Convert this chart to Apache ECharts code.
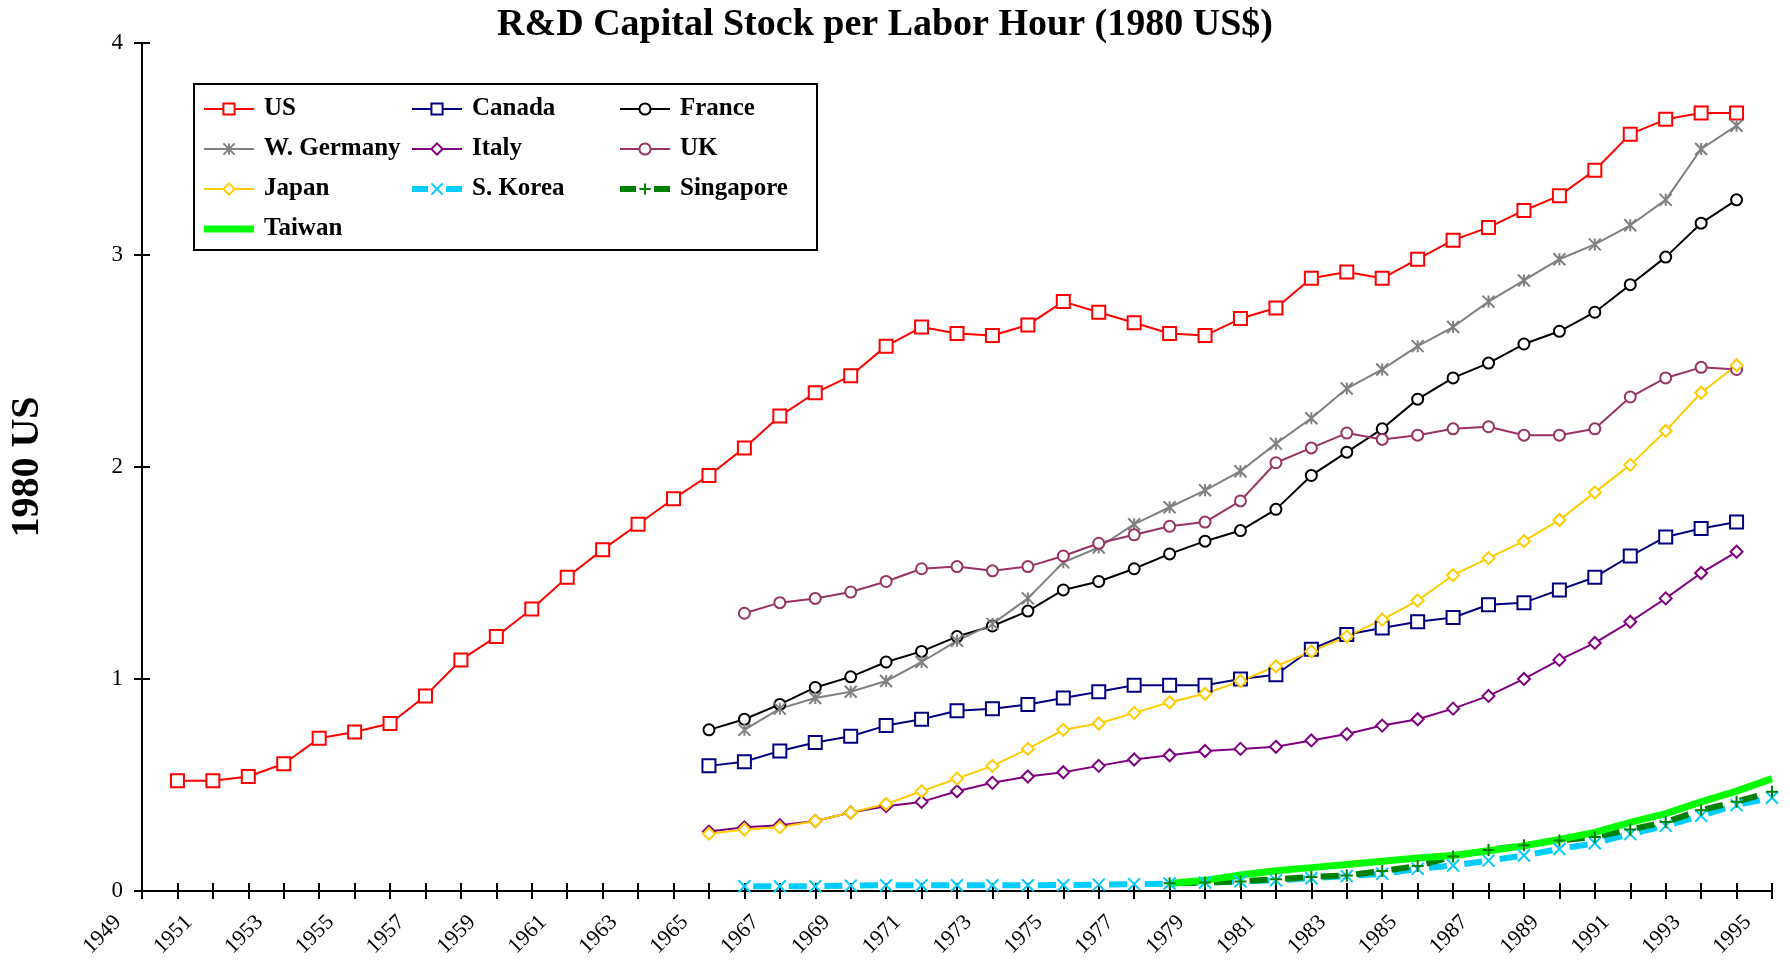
<!DOCTYPE html>
<html>
<head>
<meta charset="utf-8">
<title>R&amp;D Capital Stock per Labor Hour</title>
<script src="https://cdn.jsdelivr.net/npm/echarts@6/dist/echarts.min.js"></script>
<style>
  html, body { margin: 0; padding: 0; background: #fff; }
  #chart { width: 1790px; height: 960px; }
</style>
</head>
<body>
<div id="chart"></div>
<script>
// x axis categories (one per year)
var years = ['1949', '1950', '1951', '1952', '1953', '1954', '1955', '1956', '1957', '1958',
    '1959', '1960', '1961', '1962', '1963', '1964', '1965', '1966', '1967', '1968',
    '1969', '1970', '1971', '1972', '1973', '1974', '1975', '1976', '1977', '1978',
    '1979', '1980', '1981', '1982', '1983', '1984', '1985', '1986', '1987', '1988',
    '1989', '1990', '1991', '1992', '1993', '1994', '1995'];

// values, each list starts at its own first year
var usStart = 1950;
var usData = [0.52, 0.52, 0.54, 0.60, 0.72, 0.75, 0.79, 0.92, 1.09, 1.20,
    1.33, 1.48, 1.61, 1.73, 1.85, 1.96, 2.09, 2.24, 2.35, 2.43,
    2.57, 2.66, 2.63, 2.62, 2.67, 2.78, 2.73, 2.68, 2.63, 2.62,
    2.70, 2.75, 2.89, 2.92, 2.89, 2.98, 3.07, 3.13, 3.21, 3.28,
    3.40, 3.57, 3.64, 3.67, 3.67];

var canadaStart = 1965;
var canadaData = [0.59, 0.61, 0.66, 0.70, 0.73, 0.78, 0.81, 0.85, 0.86, 0.88,
    0.91, 0.94, 0.97, 0.97, 0.97, 1.00, 1.02, 1.14, 1.21, 1.24,
    1.27, 1.29, 1.35, 1.36, 1.42, 1.48, 1.58, 1.67, 1.71, 1.74];

var franceStart = 1965;
var franceData = [0.76, 0.81, 0.88, 0.96, 1.01, 1.08, 1.13, 1.20, 1.25, 1.32,
    1.42, 1.46, 1.52, 1.59, 1.65, 1.70, 1.80, 1.96, 2.07, 2.18,
    2.32, 2.42, 2.49, 2.58, 2.64, 2.73, 2.86, 2.99, 3.15, 3.26];

var germanyStart = 1966;
var germanyData = [0.76, 0.86, 0.91, 0.94, 0.99, 1.08, 1.18, 1.26, 1.38, 1.55,
    1.62, 1.73, 1.81, 1.89, 1.98, 2.11, 2.23, 2.37, 2.46, 2.57,
    2.66, 2.78, 2.88, 2.98, 3.05, 3.14, 3.26, 3.50, 3.61];

var italyStart = 1965;
var italyData = [0.28, 0.30, 0.31, 0.33, 0.37, 0.40, 0.42, 0.47, 0.51, 0.54,
    0.56, 0.59, 0.62, 0.64, 0.66, 0.67, 0.68, 0.71, 0.74, 0.78,
    0.81, 0.86, 0.92, 1.00, 1.09, 1.17, 1.27, 1.38, 1.50, 1.60];

var ukStart = 1966;
var ukData = [1.31, 1.36, 1.38, 1.41, 1.46, 1.52, 1.53, 1.51, 1.53, 1.58,
    1.64, 1.68, 1.72, 1.74, 1.84, 2.02, 2.09, 2.16, 2.13, 2.15,
    2.18, 2.19, 2.15, 2.15, 2.18, 2.33, 2.42, 2.47, 2.46];

var japanStart = 1965;
var japanData = [0.27, 0.29, 0.30, 0.33, 0.37, 0.41, 0.47, 0.53, 0.59, 0.67,
    0.76, 0.79, 0.84, 0.89, 0.93, 0.99, 1.06, 1.13, 1.20, 1.28,
    1.37, 1.49, 1.57, 1.65, 1.75, 1.88, 2.01, 2.17, 2.35, 2.48];

var koreaStart = 1966;
var koreaData = [0.022, 0.022, 0.022, 0.025, 0.027, 0.027, 0.027, 0.027, 0.027, 0.028,
    0.030, 0.032, 0.035, 0.040, 0.045, 0.050, 0.060, 0.070, 0.081, 0.104,
    0.120, 0.143, 0.167, 0.198, 0.225, 0.268, 0.307, 0.355, 0.405, 0.440];

var singaporeStart = 1978;
var singaporeData = [0.036, 0.040, 0.045, 0.055, 0.066, 0.073, 0.094, 0.118, 0.162, 0.193,
    0.215, 0.238, 0.254, 0.290, 0.325, 0.381, 0.421, 0.468];

var taiwanStart = 1978;
var taiwanData = [0.035, 0.050, 0.075, 0.095, 0.110, 0.125, 0.140, 0.155, 0.167, 0.190,
    0.213, 0.243, 0.276, 0.323, 0.365, 0.420, 0.471, 0.530];

var yTicks = [0, 1, 2, 3, 4];

// put a list on the full year axis (empty years stay null)
function onYears(start, vals) {
    var out = [];
    for (var i = 0; i < years.length; i++) {
        var k = Number(years[i]) - start;
        out.push(k >= 0 && k < vals.length ? vals[k] : null);
    }
    return out;
}

var serif = "'Liberation Serif', 'Times New Roman', serif";
var asterisk = 'path://M5,0L5,10M0,0L10,10M0,10L10,0';
var cross = 'path://M0,0L10,10M0,10L10,0';
var plus = 'path://M5,0L5,10M0,5L10,5';

function markLine(name, color, data, symbol, size) {
    return {
        name: name,
        type: 'line',
        data: data,
        symbol: symbol,
        symbolSize: size,
        showAllSymbol: true,
        animation: false,
        lineStyle: {color: color, width: 2},
        itemStyle: {color: color, borderColor: color, borderWidth: 2}
    };
}

var chart = echarts.init(document.getElementById('chart'));

var series = [
    markLine('US', '#ff0000', onYears(usStart, usData), 'emptyRect', 13),
    markLine('Canada', '#000080', onYears(canadaStart, canadaData), 'emptyRect', 13),
    markLine('France', '#000000', onYears(franceStart, franceData), 'emptyCircle', 11),
    markLine('W. Germany', '#808080', onYears(germanyStart, germanyData), asterisk, 12),
    markLine('Italy', '#800080', onYears(italyStart, italyData), 'emptyDiamond', 12),
    markLine('UK', '#993366', onYears(ukStart, ukData), 'emptyCircle', 11),
    markLine('Japan', '#ffcc00', onYears(japanStart, japanData), 'emptyDiamond', 12),
    {
        name: 'S. Korea', type: 'line', data: onYears(koreaStart, koreaData),
        symbol: cross, symbolSize: 12, showAllSymbol: true, animation: false,
        lineStyle: {color: '#00ccff', width: 6, type: [18, 17.6], dashOffset: 26.8},
        itemStyle: {color: '#00ccff', borderColor: '#00ccff', borderWidth: 2}
    },
    {
        name: 'Singapore', type: 'line', data: onYears(singaporeStart, singaporeData),
        symbol: plus, symbolSize: 12, showAllSymbol: true, animation: false,
        lineStyle: {color: '#008000', width: 6, type: [18, 17.6], dashOffset: 26.8},
        itemStyle: {color: '#008000', borderColor: '#008000', borderWidth: 2}
    },
    {
        name: 'Taiwan', type: 'line', data: onYears(taiwanStart, taiwanData),
        symbol: 'none', animation: false,
        lineStyle: {color: '#00ff00', width: 7},
        itemStyle: {color: '#00ff00'}
    }
];

// legend entries for the two dashed series and the plain thick line
var dashedIcon = {type: [16, 18], dashOffset: 0, width: 6};
var legendItems = {
    'S. Korea': {name: 'S. Korea', lineStyle: dashedIcon},
    'Singapore': {name: 'Singapore', lineStyle: dashedIcon},
    'Taiwan': {name: 'Taiwan', icon: 'path://M0,0L50,0L50,7L0,7Z', itemStyle: {color: '#00ff00'}}
};

function legendCol(names, left) {
    return {
        data: names.map(function (n) { return legendItems[n] || n; }),
        orient: 'vertical',
        left: left,
        top: 89,
        padding: 0,
        itemGap: 0,
        itemWidth: 50,
        itemHeight: 14,
        selectedMode: false,
        textStyle: {
            fontFamily: serif, fontWeight: 'bold', fontSize: 25, color: '#000',
            lineHeight: 40, padding: [0, 0, 0, 5]
        }
    };
}

var option = {
    backgroundColor: '#fff',
    animation: false,
    title: {
        text: 'R&D Capital Stock per Labor Hour (1980 US$)',
        left: 880,
        top: 1,
        textAlign: 'center',
        textStyle: {fontFamily: serif, fontWeight: 'bold', fontSize: 38, color: '#000'}
    },
    legend: [
        legendCol(['US', 'W. Germany', 'Japan', 'Taiwan'], 203),
        legendCol(['Canada', 'Italy', 'S. Korea'], 409),
        legendCol(['France', 'UK', 'Singapore'], 617)
    ],
    graphic: [{
        type: 'rect',
        shape: {x: 194, y: 84, width: 623, height: 166},
        style: {fill: 'none', stroke: '#000', lineWidth: 2},
        silent: true
    }],
    grid: {left: 136, right: 18, top: 43, bottom: 63, containLabel: false},
    xAxis: [{
        type: 'category',
        data: years,
        boundaryGap: false,
        position: 'bottom',
        axisLine: {lineStyle: {color: '#000', width: 2}},
        axisTick: {interval: 0, length: 8, lineStyle: {color: '#000', width: 2}},
        axisLabel: {
            interval: 1, rotate: 45, margin: 4, padding: [0, 34, 0, 0],
            fontFamily: serif, fontSize: 22, color: '#000'
        },
        splitLine: {show: false}
    }, {
        // second copy only to draw the inner half of the crossing ticks
        type: 'category',
        data: years,
        boundaryGap: false,
        position: 'bottom',
        axisLine: {show: false},
        axisTick: {interval: 0, inside: true, length: 8, lineStyle: {color: '#000', width: 2}},
        axisLabel: {show: false},
        splitLine: {show: false}
    }],
    yAxis: [{
        type: 'value',
        min: yTicks[0],
        max: yTicks[yTicks.length - 1],
        interval: 1,
        position: 'left',
        name: '1980 US',
        nameLocation: 'middle',
        nameGap: 94,
        nameTextStyle: {fontFamily: serif, fontWeight: 'bold', fontSize: 40, color: '#000'},
        axisLine: {show: true, lineStyle: {color: '#000', width: 2}},
        axisTick: {show: true, length: 8, lineStyle: {color: '#000', width: 2}},
        axisLabel: {margin: 19, fontFamily: serif, fontSize: 23, color: '#000'},
        splitLine: {show: false}
    }, {
        type: 'value',
        min: yTicks[0],
        max: yTicks[yTicks.length - 1],
        interval: 1,
        position: 'left',
        axisLine: {show: false},
        axisTick: {show: true, inside: true, length: 8, lineStyle: {color: '#000', width: 2}},
        axisLabel: {show: false},
        splitLine: {show: false}
    }],
    series: series
};

chart.setOption(option);
</script>
</body>
</html>
